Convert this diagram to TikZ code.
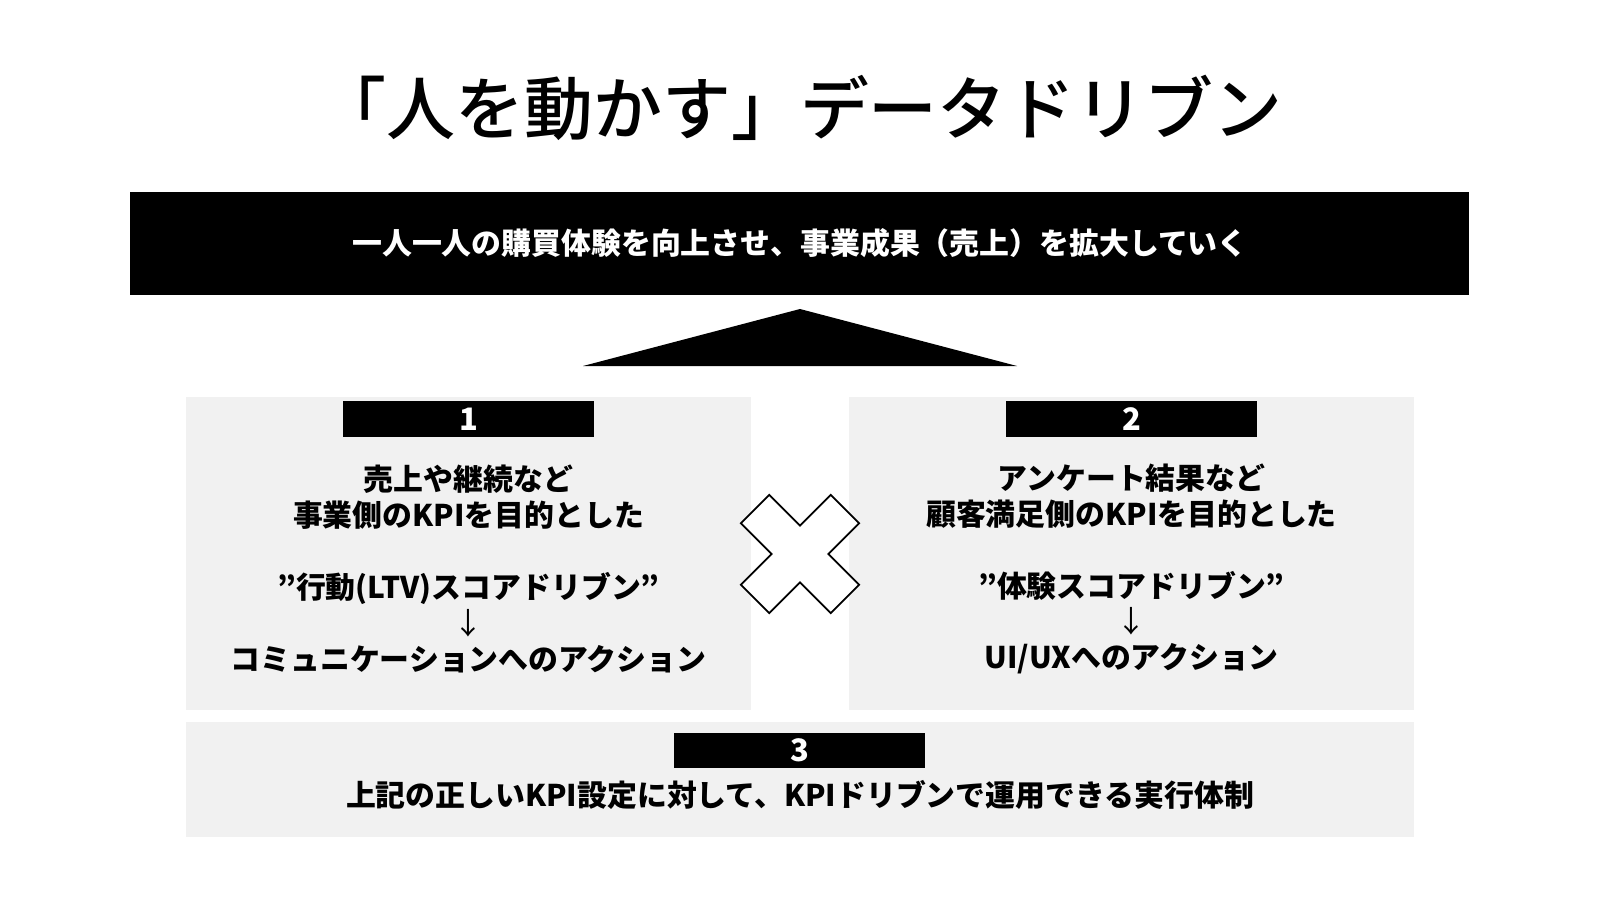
\documentclass[tikz,border=0pt]{standalone}
\usepackage{fontspec}
\setmainfont{Noto Sans CJK JP}
\newfontfamily\titlefont{Noto Sans CJK JP Medium}
\usepackage{tikz}
\usepackage{xcolor}
\definecolor{panelgray}{RGB}{241,241,241}

\begin{document}
\begin{tikzpicture}[
        bodytext/.style={align=center, font=\fontsize{8.5}{10.2}\selectfont\bfseries},
        numtext/.style={text=white, font=\fontsize{8.8}{10}\selectfont\bfseries},
        panel/.style={fill=panelgray},
        badge/.style={fill=black}]
        \useasboundingbox (0,0) rectangle (16,9);

        % Title
        \node (title) at (8,7.92) {\titlefont\fontsize{19.6}{24}\selectfont 「人を動かす」データドリブン};

        % Goal banner
        \fill[black] (1.30,6.05) rectangle (14.69,7.08);
        \node[bodytext, text=white] (goal) at (8,6.57) {一人一人の購買体験を向上させ、事業成果（売上）を拡大していく};

        % Roof
        \fill[black] (5.83,5.34) -- (8,5.91) -- (10.17,5.34) -- cycle;

        % Pillar 1
        \fill[panel] (1.86,1.90) rectangle (7.51,5.03);
        \fill[badge] (3.43,4.63) rectangle (5.94,4.99);
        \node[numtext] (num1) at (4.685,4.81) {1};
        \node[bodytext] (pillar1) at (4.685,3.31) {売上や継続など\\事業側のKPIを目的とした\\[10.2pt]”行動(LTV)スコアドリブン”\\{\mdseries ↓}\\コミュニケーションへのアクション};

        % Pillar 2
        \fill[panel] (8.49,1.90) rectangle (14.14,5.03);
        \fill[badge] (10.06,4.63) rectangle (12.57,4.99);
        \node[numtext] (num2) at (11.315,4.81) {2};
        \node[bodytext] (pillar2) at (11.315,3.31) {アンケート結果など\\顧客満足側のKPIを目的とした\\[10.2pt]”体験スコアドリブン”\\{\mdseries ↓}\\UI/UXへのアクション};

        % Cross
        \draw[fill=white, line width=0.5pt, shift={(8,3.46)}, rotate=45]
            (0.2,0.2) -- (0.2,0.636) -- (-0.2,0.636) -- (-0.2,0.2) -- (-0.636,0.2) -- (-0.636,-0.2)
            -- (-0.2,-0.2) -- (-0.2,-0.636) -- (0.2,-0.636) -- (0.2,-0.2) -- (0.636,-0.2) -- (0.636,0.2) -- cycle;

        % Foundation 3
        \fill[panel] (1.86,0.63) rectangle (14.14,1.78);
        \fill[badge] (6.74,1.32) rectangle (9.25,1.67);
        \node[numtext] (num3) at (8,1.495) {3};
        \node[bodytext] (base) at (8,1.05) {上記の正しいKPI設定に対して、KPIドリブンで運用できる実行体制};
\end{tikzpicture}
\end{document}
